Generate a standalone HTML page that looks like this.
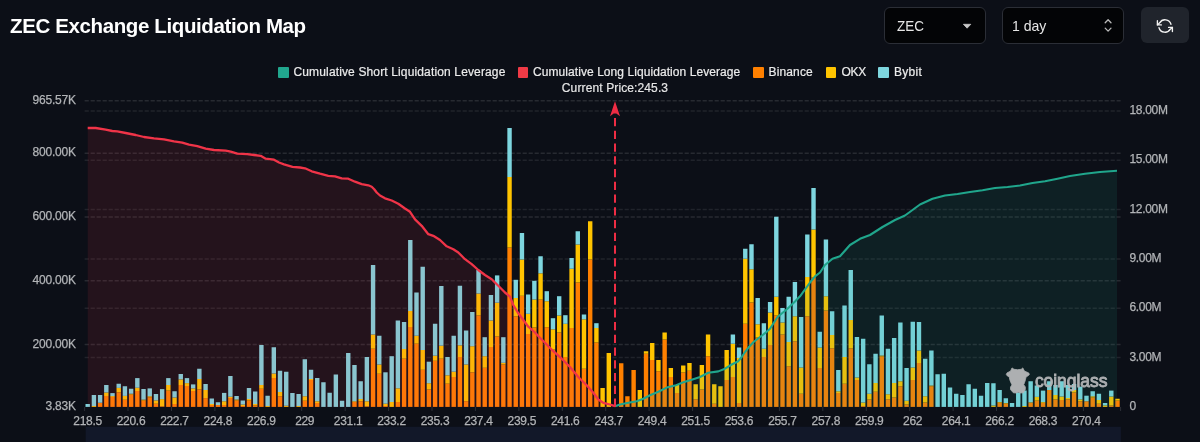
<!DOCTYPE html>
<html><head><meta charset="utf-8"><title>ZEC Exchange Liquidation Map</title>
<style>
html,body{margin:0;padding:0;}
body{width:1200px;height:442px;background:#0c0f17;overflow:hidden;position:relative;font-family:"Liberation Sans",sans-serif;}
.title{position:absolute;left:10px;top:14px;font-size:20.5px;font-weight:bold;color:#fff;letter-spacing:-0.38px;line-height:24px;white-space:nowrap;}
.sel{position:absolute;top:7px;height:37px;box-sizing:border-box;border:1px solid #2b2e36;border-radius:6px;background:#030406;color:#e6e6e6;font-size:14.5px;line-height:35px;}
.sel span{position:absolute;top:0;display:inline-block;transform-origin:left center;white-space:nowrap;}
.btn{position:absolute;left:1140.6px;top:7.3px;width:48.6px;height:35.8px;border-radius:6px;background:#20242c;}
.lg{position:absolute;top:66px;height:12px;font-size:12px;line-height:12px;color:#ececec;white-space:nowrap;-webkit-text-stroke:0.2px #ececec;}
.sq{position:absolute;top:67px;width:10.5px;height:10.5px;border-radius:1px;}
svg{position:absolute;left:0;top:0;}
svg text{font-family:"Liberation Sans",sans-serif;}
#w{position:absolute;left:0;top:0;width:1200px;height:442px;will-change:transform;}
</style></head><body><div id="w">
<div class="title">ZEC Exchange Liquidation Map</div>
<div class="sel" style="left:884px;width:102px;"><span style="left:12px;top:1px;transform:scaleX(0.93);">ZEC</span></div>
<div class="sel" style="left:1002px;width:122px;"><span style="left:8.6px;top:1px;transform:scaleX(0.97);">1 day</span></div>
<div class="btn"></div>

<div class="sq" style="left:278.2px;background:#21a78e;"></div><div class="lg" style="left:293.5px;letter-spacing:0.14px;">Cumulative Short Liquidation Leverage</div>
<div class="sq" style="left:517.5px;background:#f03a46;"></div><div class="lg" style="left:533px;letter-spacing:0.07px;">Cumulative Long Liquidation Leverage</div>
<div class="sq" style="left:753.3px;background:#ff8000;"></div><div class="lg" style="left:768.5px;letter-spacing:0.15px;">Binance</div>
<div class="sq" style="left:825.8px;background:#ffc400;"></div><div class="lg" style="left:841.5px;letter-spacing:-0.3px;">OKX</div>
<div class="sq" style="left:878.3px;background:#7ed6df;"></div><div class="lg" style="left:894px;letter-spacing:0.3px;">Bybit</div>

<svg width="1200" height="442" viewBox="0 0 1200 442">
<!-- header icons -->
<path d="M963.4 24.3 h7.4 l-3.7 3.9 z" fill="#c8c8c8" stroke="#c8c8c8" stroke-width="0.8" stroke-linejoin="round"/>
<path d="M1105.2 22.8 L1108.1 19.8 L1111 22.8 M1105.2 28.1 L1108.1 31.1 L1111 28.1" fill="none" stroke="#b8b8b8" stroke-width="1.3" stroke-linecap="round" stroke-linejoin="round"/>
<g fill="none" stroke="#f2f2f2" stroke-width="1.35" stroke-linecap="round" stroke-linejoin="round">
<path d="M1171 24.3 A6.2 6.2 0 0 0 1159.7 22.8 L1157.4 24.9"/><path d="M1157.4 20.7 V24.9 H1161.4"/>
<path d="M1159 27.7 A6.2 6.2 0 0 0 1170.3 29.2 L1172.4 27.4"/><path d="M1168.6 27.4 H1172.4 V31.6"/>
</g>
<!-- slider band -->
<rect x="85.7" y="426.8" width="1035.2" height="16" fill="#121829"/>
<!-- grid -->
<g stroke-width="1.5" stroke-dasharray="4.2 1.8"><g stroke="rgba(255,255,255,0.115)"><line x1="84.6" x2="1120.6" y1="100.7" y2="100.7"/><line x1="84.6" x2="1120.6" y1="153.2" y2="153.2"/><line x1="84.6" x2="1120.6" y1="217.0" y2="217.0"/><line x1="84.6" x2="1120.6" y1="280.8" y2="280.8"/><line x1="84.6" x2="1120.6" y1="344.6" y2="344.6"/></g><g stroke="rgba(255,255,255,0.085)"><line x1="84.6" x2="1120.6" y1="110.9" y2="110.9"/><line x1="84.6" x2="1120.6" y1="160.2" y2="160.2"/><line x1="84.6" x2="1120.6" y1="209.6" y2="209.6"/><line x1="84.6" x2="1120.6" y1="258.9" y2="258.9"/><line x1="84.6" x2="1120.6" y1="308.2" y2="308.2"/><line x1="84.6" x2="1120.6" y1="357.4" y2="357.4"/></g></g>
<!-- bars -->
<g shape-rendering="auto">
<rect x="85.50" y="404.00" width="4.4" height="2.90" fill="#7ed6df"/>
<rect x="91.71" y="406.00" width="4.4" height="0.90" fill="#ffc400"/>
<rect x="91.71" y="395.00" width="4.4" height="11.00" fill="#7ed6df"/>
<rect x="97.91" y="402.75" width="4.4" height="4.15" fill="#ff8000"/>
<rect x="97.91" y="395.00" width="4.4" height="7.75" fill="#7ed6df"/>
<rect x="104.11" y="396.00" width="4.4" height="10.90" fill="#ff8000"/>
<rect x="104.11" y="392.50" width="4.4" height="3.50" fill="#ffc400"/>
<rect x="104.11" y="385.00" width="4.4" height="7.50" fill="#7ed6df"/>
<rect x="110.32" y="396.90" width="4.4" height="10.00" fill="#ff8000"/>
<rect x="110.32" y="396.00" width="4.4" height="0.90" fill="#ffc400"/>
<rect x="110.32" y="393.10" width="4.4" height="2.90" fill="#7ed6df"/>
<rect x="116.52" y="392.25" width="4.4" height="14.65" fill="#ff8000"/>
<rect x="116.52" y="387.90" width="4.4" height="4.35" fill="#ffc400"/>
<rect x="116.52" y="383.75" width="4.4" height="4.15" fill="#7ed6df"/>
<rect x="122.72" y="399.75" width="4.4" height="7.15" fill="#ff8000"/>
<rect x="122.72" y="395.90" width="4.4" height="3.85" fill="#ffc400"/>
<rect x="122.72" y="386.25" width="4.4" height="9.65" fill="#7ed6df"/>
<rect x="128.93" y="394.60" width="4.4" height="12.30" fill="#ff8000"/>
<rect x="128.93" y="393.75" width="4.4" height="0.85" fill="#ffc400"/>
<rect x="128.93" y="388.75" width="4.4" height="5.00" fill="#7ed6df"/>
<rect x="135.13" y="391.00" width="4.4" height="15.90" fill="#ff8000"/>
<rect x="135.13" y="387.75" width="4.4" height="3.25" fill="#ffc400"/>
<rect x="135.13" y="378.10" width="4.4" height="9.65" fill="#7ed6df"/>
<rect x="141.33" y="400.60" width="4.4" height="6.30" fill="#ff8000"/>
<rect x="141.33" y="399.60" width="4.4" height="1.00" fill="#ffc400"/>
<rect x="141.33" y="389.00" width="4.4" height="10.60" fill="#7ed6df"/>
<rect x="147.54" y="397.25" width="4.4" height="9.65" fill="#ff8000"/>
<rect x="147.54" y="396.25" width="4.4" height="1.00" fill="#ffc400"/>
<rect x="147.54" y="388.40" width="4.4" height="7.85" fill="#7ed6df"/>
<rect x="153.74" y="403.75" width="4.4" height="3.15" fill="#ff8000"/>
<rect x="153.74" y="400.40" width="4.4" height="3.35" fill="#ffc400"/>
<rect x="153.74" y="394.00" width="4.4" height="6.40" fill="#7ed6df"/>
<rect x="159.94" y="406.30" width="4.4" height="0.60" fill="#ff8000"/>
<rect x="159.94" y="399.10" width="4.4" height="7.20" fill="#ffc400"/>
<rect x="159.94" y="389.10" width="4.4" height="10.00" fill="#7ed6df"/>
<rect x="166.15" y="390.60" width="4.4" height="16.30" fill="#ff8000"/>
<rect x="166.15" y="385.00" width="4.4" height="5.60" fill="#ffc400"/>
<rect x="166.15" y="378.10" width="4.4" height="6.90" fill="#7ed6df"/>
<rect x="172.35" y="404.00" width="4.4" height="2.90" fill="#ff8000"/>
<rect x="172.35" y="397.50" width="4.4" height="6.50" fill="#ffc400"/>
<rect x="172.35" y="391.25" width="4.4" height="6.25" fill="#7ed6df"/>
<rect x="178.56" y="385.00" width="4.4" height="21.90" fill="#ff8000"/>
<rect x="178.56" y="379.40" width="4.4" height="5.60" fill="#ffc400"/>
<rect x="178.56" y="374.00" width="4.4" height="5.40" fill="#7ed6df"/>
<rect x="184.76" y="386.00" width="4.4" height="20.90" fill="#ff8000"/>
<rect x="184.76" y="383.10" width="4.4" height="2.90" fill="#ffc400"/>
<rect x="184.76" y="378.10" width="4.4" height="5.00" fill="#7ed6df"/>
<rect x="190.96" y="391.00" width="4.4" height="15.90" fill="#ff8000"/>
<rect x="190.96" y="388.40" width="4.4" height="2.60" fill="#ffc400"/>
<rect x="190.96" y="384.40" width="4.4" height="4.00" fill="#7ed6df"/>
<rect x="197.17" y="389.40" width="4.4" height="17.50" fill="#ff8000"/>
<rect x="197.17" y="379.00" width="4.4" height="10.40" fill="#ffc400"/>
<rect x="197.17" y="368.75" width="4.4" height="10.25" fill="#7ed6df"/>
<rect x="203.37" y="398.10" width="4.4" height="8.80" fill="#ff8000"/>
<rect x="203.37" y="390.00" width="4.4" height="8.10" fill="#ffc400"/>
<rect x="203.37" y="384.00" width="4.4" height="6.00" fill="#7ed6df"/>
<rect x="209.57" y="405.00" width="4.4" height="1.90" fill="#ff8000"/>
<rect x="209.57" y="404.00" width="4.4" height="1.00" fill="#ffc400"/>
<rect x="209.57" y="398.50" width="4.4" height="5.50" fill="#7ed6df"/>
<rect x="215.78" y="405.00" width="4.4" height="1.90" fill="#ff8000"/>
<rect x="215.78" y="402.25" width="4.4" height="2.75" fill="#7ed6df"/>
<rect x="221.98" y="405.00" width="4.4" height="1.90" fill="#ff8000"/>
<rect x="221.98" y="401.25" width="4.4" height="3.75" fill="#ffc400"/>
<rect x="221.98" y="392.90" width="4.4" height="8.35" fill="#7ed6df"/>
<rect x="228.18" y="398.00" width="4.4" height="8.90" fill="#ff8000"/>
<rect x="228.18" y="396.75" width="4.4" height="1.25" fill="#ffc400"/>
<rect x="228.18" y="376.00" width="4.4" height="20.75" fill="#7ed6df"/>
<rect x="234.39" y="400.50" width="4.4" height="6.40" fill="#ff8000"/>
<rect x="234.39" y="399.50" width="4.4" height="1.00" fill="#ffc400"/>
<rect x="234.39" y="396.00" width="4.4" height="3.50" fill="#7ed6df"/>
<rect x="240.59" y="406.00" width="4.4" height="0.90" fill="#ff8000"/>
<rect x="240.59" y="404.50" width="4.4" height="1.50" fill="#ffc400"/>
<rect x="240.59" y="400.50" width="4.4" height="4.00" fill="#7ed6df"/>
<rect x="246.80" y="400.50" width="4.4" height="6.40" fill="#ff8000"/>
<rect x="246.80" y="399.00" width="4.4" height="1.50" fill="#ffc400"/>
<rect x="246.80" y="388.00" width="4.4" height="11.00" fill="#7ed6df"/>
<rect x="253.00" y="405.50" width="4.4" height="1.40" fill="#ff8000"/>
<rect x="253.00" y="404.00" width="4.4" height="1.50" fill="#ffc400"/>
<rect x="253.00" y="391.50" width="4.4" height="12.50" fill="#7ed6df"/>
<rect x="259.20" y="388.75" width="4.4" height="18.15" fill="#ff8000"/>
<rect x="259.20" y="385.00" width="4.4" height="3.75" fill="#ffc400"/>
<rect x="259.20" y="345.00" width="4.4" height="40.00" fill="#7ed6df"/>
<rect x="265.41" y="406.00" width="4.4" height="0.90" fill="#ffc400"/>
<rect x="265.41" y="395.75" width="4.4" height="10.25" fill="#7ed6df"/>
<rect x="271.61" y="378.00" width="4.4" height="28.90" fill="#ff8000"/>
<rect x="271.61" y="373.50" width="4.4" height="4.50" fill="#ffc400"/>
<rect x="271.61" y="347.25" width="4.4" height="26.25" fill="#7ed6df"/>
<rect x="277.81" y="396.25" width="4.4" height="10.65" fill="#ff8000"/>
<rect x="277.81" y="392.00" width="4.4" height="4.25" fill="#ffc400"/>
<rect x="277.81" y="370.75" width="4.4" height="21.25" fill="#7ed6df"/>
<rect x="284.02" y="405.75" width="4.4" height="1.15" fill="#ffc400"/>
<rect x="284.02" y="371.75" width="4.4" height="34.00" fill="#7ed6df"/>
<rect x="290.22" y="393.00" width="4.4" height="13.90" fill="#7ed6df"/>
<rect x="296.42" y="406.00" width="4.4" height="0.90" fill="#ffc400"/>
<rect x="296.42" y="394.00" width="4.4" height="12.00" fill="#7ed6df"/>
<rect x="302.63" y="400.75" width="4.4" height="6.15" fill="#ff8000"/>
<rect x="302.63" y="396.25" width="4.4" height="4.50" fill="#ffc400"/>
<rect x="302.63" y="359.25" width="4.4" height="37.00" fill="#7ed6df"/>
<rect x="308.83" y="380.00" width="4.4" height="26.90" fill="#ff8000"/>
<rect x="308.83" y="379.00" width="4.4" height="1.00" fill="#ffc400"/>
<rect x="308.83" y="369.75" width="4.4" height="9.25" fill="#7ed6df"/>
<rect x="315.03" y="403.00" width="4.4" height="3.90" fill="#ff8000"/>
<rect x="315.03" y="401.25" width="4.4" height="1.75" fill="#ffc400"/>
<rect x="315.03" y="378.00" width="4.4" height="23.25" fill="#7ed6df"/>
<rect x="321.24" y="382.25" width="4.4" height="24.65" fill="#7ed6df"/>
<rect x="327.44" y="392.75" width="4.4" height="14.15" fill="#7ed6df"/>
<rect x="333.65" y="374.50" width="4.4" height="32.40" fill="#7ed6df"/>
<rect x="339.85" y="400.75" width="4.4" height="6.15" fill="#7ed6df"/>
<rect x="346.05" y="353.00" width="4.4" height="53.90" fill="#7ed6df"/>
<rect x="352.26" y="402.00" width="4.4" height="4.90" fill="#ff8000"/>
<rect x="352.26" y="401.25" width="4.4" height="0.75" fill="#ffc400"/>
<rect x="352.26" y="365.00" width="4.4" height="36.25" fill="#7ed6df"/>
<rect x="358.46" y="401.25" width="4.4" height="5.65" fill="#ff8000"/>
<rect x="358.46" y="399.00" width="4.4" height="2.25" fill="#ffc400"/>
<rect x="358.46" y="381.25" width="4.4" height="17.75" fill="#7ed6df"/>
<rect x="364.66" y="406.25" width="4.4" height="0.65" fill="#ff8000"/>
<rect x="364.66" y="401.25" width="4.4" height="5.00" fill="#ffc400"/>
<rect x="364.66" y="357.00" width="4.4" height="44.25" fill="#7ed6df"/>
<rect x="370.87" y="348.75" width="4.4" height="58.15" fill="#ff8000"/>
<rect x="370.87" y="334.50" width="4.4" height="14.25" fill="#ffc400"/>
<rect x="370.87" y="265.00" width="4.4" height="69.50" fill="#7ed6df"/>
<rect x="377.07" y="373.75" width="4.4" height="33.15" fill="#ff8000"/>
<rect x="377.07" y="364.50" width="4.4" height="9.25" fill="#ffc400"/>
<rect x="377.07" y="335.75" width="4.4" height="28.75" fill="#7ed6df"/>
<rect x="383.27" y="406.00" width="4.4" height="0.90" fill="#ff8000"/>
<rect x="383.27" y="403.70" width="4.4" height="2.30" fill="#ffc400"/>
<rect x="383.27" y="372.30" width="4.4" height="31.40" fill="#7ed6df"/>
<rect x="389.48" y="402.00" width="4.4" height="4.90" fill="#ffc400"/>
<rect x="389.48" y="356.20" width="4.4" height="45.80" fill="#7ed6df"/>
<rect x="395.68" y="402.00" width="4.4" height="4.90" fill="#ff8000"/>
<rect x="395.68" y="388.30" width="4.4" height="13.70" fill="#ffc400"/>
<rect x="395.68" y="320.50" width="4.4" height="67.80" fill="#7ed6df"/>
<rect x="401.89" y="358.70" width="4.4" height="48.20" fill="#ff8000"/>
<rect x="401.89" y="349.00" width="4.4" height="9.70" fill="#ffc400"/>
<rect x="401.89" y="322.00" width="4.4" height="27.00" fill="#7ed6df"/>
<rect x="408.09" y="327.00" width="4.4" height="79.90" fill="#ff8000"/>
<rect x="408.09" y="311.00" width="4.4" height="16.00" fill="#ffc400"/>
<rect x="408.09" y="240.00" width="4.4" height="71.00" fill="#7ed6df"/>
<rect x="414.29" y="343.70" width="4.4" height="63.20" fill="#ff8000"/>
<rect x="414.29" y="335.75" width="4.4" height="7.95" fill="#ffc400"/>
<rect x="414.29" y="292.50" width="4.4" height="43.25" fill="#7ed6df"/>
<rect x="420.50" y="369.80" width="4.4" height="37.10" fill="#ff8000"/>
<rect x="420.50" y="350.00" width="4.4" height="19.80" fill="#ffc400"/>
<rect x="420.50" y="266.75" width="4.4" height="83.25" fill="#7ed6df"/>
<rect x="426.70" y="389.50" width="4.4" height="17.40" fill="#ff8000"/>
<rect x="426.70" y="383.20" width="4.4" height="6.30" fill="#ffc400"/>
<rect x="426.70" y="361.70" width="4.4" height="21.50" fill="#7ed6df"/>
<rect x="432.90" y="360.80" width="4.4" height="46.10" fill="#ff8000"/>
<rect x="432.90" y="355.70" width="4.4" height="5.10" fill="#ffc400"/>
<rect x="432.90" y="323.75" width="4.4" height="31.95" fill="#7ed6df"/>
<rect x="439.11" y="358.70" width="4.4" height="48.20" fill="#ff8000"/>
<rect x="439.11" y="345.70" width="4.4" height="13.00" fill="#ffc400"/>
<rect x="439.11" y="286.00" width="4.4" height="59.70" fill="#7ed6df"/>
<rect x="445.31" y="383.70" width="4.4" height="23.20" fill="#ff8000"/>
<rect x="445.31" y="375.30" width="4.4" height="8.40" fill="#ffc400"/>
<rect x="445.31" y="357.00" width="4.4" height="18.30" fill="#7ed6df"/>
<rect x="451.51" y="377.00" width="4.4" height="29.90" fill="#ff8000"/>
<rect x="451.51" y="371.70" width="4.4" height="5.30" fill="#ffc400"/>
<rect x="451.51" y="335.75" width="4.4" height="35.95" fill="#7ed6df"/>
<rect x="457.72" y="357.00" width="4.4" height="49.90" fill="#ff8000"/>
<rect x="457.72" y="345.30" width="4.4" height="11.70" fill="#ffc400"/>
<rect x="457.72" y="285.75" width="4.4" height="59.55" fill="#7ed6df"/>
<rect x="463.92" y="401.20" width="4.4" height="5.70" fill="#ff8000"/>
<rect x="463.92" y="364.50" width="4.4" height="36.70" fill="#ffc400"/>
<rect x="463.92" y="330.50" width="4.4" height="34.00" fill="#7ed6df"/>
<rect x="470.12" y="372.30" width="4.4" height="34.60" fill="#ff8000"/>
<rect x="470.12" y="346.20" width="4.4" height="26.10" fill="#ffc400"/>
<rect x="470.12" y="312.00" width="4.4" height="34.20" fill="#7ed6df"/>
<rect x="476.33" y="315.50" width="4.4" height="91.40" fill="#ff8000"/>
<rect x="476.33" y="293.50" width="4.4" height="22.00" fill="#ffc400"/>
<rect x="476.33" y="270.00" width="4.4" height="23.50" fill="#7ed6df"/>
<rect x="482.53" y="367.80" width="4.4" height="39.10" fill="#ff8000"/>
<rect x="482.53" y="356.20" width="4.4" height="11.60" fill="#ffc400"/>
<rect x="482.53" y="337.20" width="4.4" height="19.00" fill="#7ed6df"/>
<rect x="488.74" y="347.00" width="4.4" height="59.90" fill="#ff8000"/>
<rect x="488.74" y="320.50" width="4.4" height="26.50" fill="#ffc400"/>
<rect x="488.74" y="295.00" width="4.4" height="25.50" fill="#7ed6df"/>
<rect x="494.94" y="336.50" width="4.4" height="70.40" fill="#ff8000"/>
<rect x="494.94" y="302.70" width="4.4" height="33.80" fill="#ffc400"/>
<rect x="494.94" y="275.40" width="4.4" height="27.30" fill="#7ed6df"/>
<rect x="501.14" y="364.50" width="4.4" height="42.40" fill="#ff8000"/>
<rect x="501.14" y="362.80" width="4.4" height="1.70" fill="#ffc400"/>
<rect x="501.14" y="337.20" width="4.4" height="25.60" fill="#7ed6df"/>
<rect x="507.35" y="247.50" width="4.4" height="159.40" fill="#ff8000"/>
<rect x="507.35" y="177.00" width="4.4" height="70.50" fill="#ffc400"/>
<rect x="507.35" y="128.00" width="4.4" height="49.00" fill="#7ed6df"/>
<rect x="513.55" y="316.30" width="4.4" height="90.60" fill="#ff8000"/>
<rect x="513.55" y="298.00" width="4.4" height="18.30" fill="#ffc400"/>
<rect x="513.55" y="279.80" width="4.4" height="18.20" fill="#7ed6df"/>
<rect x="519.75" y="295.80" width="4.4" height="111.10" fill="#ff8000"/>
<rect x="519.75" y="259.50" width="4.4" height="36.30" fill="#ffc400"/>
<rect x="519.75" y="233.00" width="4.4" height="26.50" fill="#7ed6df"/>
<rect x="525.96" y="334.00" width="4.4" height="72.90" fill="#ff8000"/>
<rect x="525.96" y="313.80" width="4.4" height="20.20" fill="#ffc400"/>
<rect x="525.96" y="294.50" width="4.4" height="19.30" fill="#7ed6df"/>
<rect x="532.16" y="327.50" width="4.4" height="79.40" fill="#ff8000"/>
<rect x="532.16" y="299.50" width="4.4" height="28.00" fill="#ffc400"/>
<rect x="532.16" y="280.80" width="4.4" height="18.70" fill="#7ed6df"/>
<rect x="538.36" y="299.60" width="4.4" height="107.30" fill="#ff8000"/>
<rect x="538.36" y="273.30" width="4.4" height="26.30" fill="#ffc400"/>
<rect x="538.36" y="256.25" width="4.4" height="17.05" fill="#7ed6df"/>
<rect x="544.57" y="327.20" width="4.4" height="79.70" fill="#ff8000"/>
<rect x="544.57" y="301.20" width="4.4" height="26.00" fill="#ffc400"/>
<rect x="544.57" y="291.20" width="4.4" height="10.00" fill="#7ed6df"/>
<rect x="550.77" y="349.50" width="4.4" height="57.40" fill="#ff8000"/>
<rect x="550.77" y="329.30" width="4.4" height="20.20" fill="#ffc400"/>
<rect x="550.77" y="318.20" width="4.4" height="11.10" fill="#7ed6df"/>
<rect x="556.98" y="332.50" width="4.4" height="74.40" fill="#ff8000"/>
<rect x="556.98" y="315.50" width="4.4" height="17.00" fill="#ffc400"/>
<rect x="556.98" y="296.20" width="4.4" height="19.30" fill="#7ed6df"/>
<rect x="563.18" y="357.00" width="4.4" height="49.90" fill="#ff8000"/>
<rect x="563.18" y="323.80" width="4.4" height="33.20" fill="#ffc400"/>
<rect x="563.18" y="315.20" width="4.4" height="8.60" fill="#7ed6df"/>
<rect x="569.38" y="328.00" width="4.4" height="78.90" fill="#ff8000"/>
<rect x="569.38" y="268.75" width="4.4" height="59.25" fill="#ffc400"/>
<rect x="569.38" y="258.00" width="4.4" height="10.75" fill="#7ed6df"/>
<rect x="575.59" y="282.50" width="4.4" height="124.40" fill="#ff8000"/>
<rect x="575.59" y="244.50" width="4.4" height="38.00" fill="#ffc400"/>
<rect x="575.59" y="231.25" width="4.4" height="13.25" fill="#7ed6df"/>
<rect x="581.79" y="368.75" width="4.4" height="38.15" fill="#ff8000"/>
<rect x="581.79" y="319.30" width="4.4" height="49.45" fill="#ffc400"/>
<rect x="581.79" y="314.50" width="4.4" height="4.80" fill="#7ed6df"/>
<rect x="587.99" y="259.50" width="4.4" height="147.40" fill="#ff8000"/>
<rect x="587.99" y="221.25" width="4.4" height="38.25" fill="#ffc400"/>
<rect x="594.20" y="342.50" width="4.4" height="64.40" fill="#ff8000"/>
<rect x="594.20" y="328.00" width="4.4" height="14.50" fill="#ffc400"/>
<rect x="594.20" y="323.20" width="4.4" height="4.80" fill="#7ed6df"/>
<rect x="600.40" y="388.00" width="4.4" height="18.90" fill="#ffc400"/>
<rect x="606.60" y="353.00" width="4.4" height="53.90" fill="#ffc400"/>
<rect x="619.01" y="363.25" width="4.4" height="43.65" fill="#ff8000"/>
<rect x="625.22" y="396.25" width="4.4" height="10.65" fill="#ff8000"/>
<rect x="631.42" y="370.00" width="4.4" height="36.90" fill="#ff8000"/>
<rect x="637.62" y="390.00" width="4.4" height="16.90" fill="#ffc400"/>
<rect x="643.83" y="353.75" width="4.4" height="53.15" fill="#ff8000"/>
<rect x="643.83" y="351.25" width="4.4" height="2.50" fill="#ffc400"/>
<rect x="650.03" y="360.00" width="4.4" height="46.90" fill="#ff8000"/>
<rect x="650.03" y="343.00" width="4.4" height="17.00" fill="#ffc400"/>
<rect x="656.23" y="371.25" width="4.4" height="35.65" fill="#ff8000"/>
<rect x="656.23" y="360.00" width="4.4" height="11.25" fill="#ffc400"/>
<rect x="662.44" y="339.50" width="4.4" height="67.40" fill="#ff8000"/>
<rect x="662.44" y="332.50" width="4.4" height="7.00" fill="#ffc400"/>
<rect x="668.64" y="377.00" width="4.4" height="29.90" fill="#ff8000"/>
<rect x="668.64" y="368.00" width="4.4" height="9.00" fill="#ffc400"/>
<rect x="674.84" y="393.00" width="4.4" height="13.90" fill="#ff8000"/>
<rect x="674.84" y="385.00" width="4.4" height="8.00" fill="#ffc400"/>
<rect x="681.05" y="372.50" width="4.4" height="34.40" fill="#ff8000"/>
<rect x="681.05" y="365.50" width="4.4" height="7.00" fill="#ffc400"/>
<rect x="687.25" y="370.75" width="4.4" height="36.15" fill="#ff8000"/>
<rect x="687.25" y="363.00" width="4.4" height="7.75" fill="#ffc400"/>
<rect x="693.45" y="399.25" width="4.4" height="7.65" fill="#ff8000"/>
<rect x="693.45" y="384.25" width="4.4" height="15.00" fill="#ffc400"/>
<rect x="699.66" y="389.50" width="4.4" height="17.40" fill="#ff8000"/>
<rect x="699.66" y="365.00" width="4.4" height="24.50" fill="#ffc400"/>
<rect x="705.86" y="356.25" width="4.4" height="50.65" fill="#ff8000"/>
<rect x="705.86" y="334.50" width="4.4" height="21.75" fill="#ffc400"/>
<rect x="712.07" y="403.75" width="4.4" height="3.15" fill="#ff8000"/>
<rect x="712.07" y="384.25" width="4.4" height="19.50" fill="#ffc400"/>
<rect x="718.27" y="386.25" width="4.4" height="20.65" fill="#ffc400"/>
<rect x="724.47" y="380.00" width="4.4" height="26.90" fill="#ff8000"/>
<rect x="724.47" y="350.00" width="4.4" height="30.00" fill="#ffc400"/>
<rect x="730.68" y="377.00" width="4.4" height="29.90" fill="#ff8000"/>
<rect x="730.68" y="343.75" width="4.4" height="33.25" fill="#ffc400"/>
<rect x="730.68" y="334.50" width="4.4" height="9.25" fill="#7ed6df"/>
<rect x="736.88" y="403.00" width="4.4" height="3.90" fill="#ff8000"/>
<rect x="736.88" y="358.00" width="4.4" height="45.00" fill="#ffc400"/>
<rect x="736.88" y="347.50" width="4.4" height="10.50" fill="#7ed6df"/>
<rect x="743.08" y="323.75" width="4.4" height="83.15" fill="#ff8000"/>
<rect x="743.08" y="258.75" width="4.4" height="65.00" fill="#ffc400"/>
<rect x="743.08" y="248.75" width="4.4" height="10.00" fill="#7ed6df"/>
<rect x="749.29" y="302.50" width="4.4" height="104.40" fill="#ff8000"/>
<rect x="749.29" y="269.25" width="4.4" height="33.25" fill="#ffc400"/>
<rect x="749.29" y="244.25" width="4.4" height="25.00" fill="#7ed6df"/>
<rect x="755.49" y="337.50" width="4.4" height="69.40" fill="#ff8000"/>
<rect x="755.49" y="324.25" width="4.4" height="13.25" fill="#ffc400"/>
<rect x="755.49" y="298.00" width="4.4" height="26.25" fill="#7ed6df"/>
<rect x="761.69" y="357.00" width="4.4" height="49.90" fill="#ff8000"/>
<rect x="761.69" y="348.75" width="4.4" height="8.25" fill="#ffc400"/>
<rect x="761.69" y="323.25" width="4.4" height="25.50" fill="#7ed6df"/>
<rect x="767.90" y="345.00" width="4.4" height="61.90" fill="#ff8000"/>
<rect x="767.90" y="312.50" width="4.4" height="32.50" fill="#ffc400"/>
<rect x="767.90" y="302.00" width="4.4" height="10.50" fill="#7ed6df"/>
<rect x="774.10" y="315.50" width="4.4" height="91.40" fill="#ff8000"/>
<rect x="774.10" y="296.75" width="4.4" height="18.75" fill="#ffc400"/>
<rect x="774.10" y="216.75" width="4.4" height="80.00" fill="#7ed6df"/>
<rect x="780.30" y="334.50" width="4.4" height="72.40" fill="#ff8000"/>
<rect x="780.30" y="322.50" width="4.4" height="12.00" fill="#ffc400"/>
<rect x="780.30" y="308.00" width="4.4" height="14.50" fill="#7ed6df"/>
<rect x="786.51" y="366.25" width="4.4" height="40.65" fill="#ff8000"/>
<rect x="786.51" y="342.00" width="4.4" height="24.25" fill="#ffc400"/>
<rect x="786.51" y="296.75" width="4.4" height="45.25" fill="#7ed6df"/>
<rect x="792.71" y="341.25" width="4.4" height="65.65" fill="#ff8000"/>
<rect x="792.71" y="316.25" width="4.4" height="25.00" fill="#ffc400"/>
<rect x="792.71" y="282.00" width="4.4" height="34.25" fill="#7ed6df"/>
<rect x="798.92" y="393.75" width="4.4" height="13.15" fill="#ff8000"/>
<rect x="798.92" y="367.50" width="4.4" height="26.25" fill="#ffc400"/>
<rect x="798.92" y="317.00" width="4.4" height="50.50" fill="#7ed6df"/>
<rect x="805.12" y="316.25" width="4.4" height="90.65" fill="#ff8000"/>
<rect x="805.12" y="277.00" width="4.4" height="39.25" fill="#ffc400"/>
<rect x="805.12" y="234.50" width="4.4" height="42.50" fill="#7ed6df"/>
<rect x="811.32" y="277.50" width="4.4" height="129.40" fill="#ff8000"/>
<rect x="811.32" y="229.50" width="4.4" height="48.00" fill="#ffc400"/>
<rect x="811.32" y="188.00" width="4.4" height="41.50" fill="#7ed6df"/>
<rect x="817.53" y="368.00" width="4.4" height="38.90" fill="#ff8000"/>
<rect x="817.53" y="347.50" width="4.4" height="20.50" fill="#ffc400"/>
<rect x="817.53" y="331.75" width="4.4" height="15.75" fill="#7ed6df"/>
<rect x="823.73" y="310.50" width="4.4" height="96.40" fill="#ff8000"/>
<rect x="823.73" y="296.25" width="4.4" height="14.25" fill="#ffc400"/>
<rect x="823.73" y="239.50" width="4.4" height="56.75" fill="#7ed6df"/>
<rect x="829.93" y="348.25" width="4.4" height="58.65" fill="#ff8000"/>
<rect x="829.93" y="335.00" width="4.4" height="13.25" fill="#ffc400"/>
<rect x="829.93" y="311.25" width="4.4" height="23.75" fill="#7ed6df"/>
<rect x="836.14" y="393.00" width="4.4" height="13.90" fill="#ff8000"/>
<rect x="836.14" y="391.25" width="4.4" height="1.75" fill="#ffc400"/>
<rect x="836.14" y="370.00" width="4.4" height="21.25" fill="#7ed6df"/>
<rect x="842.34" y="383.75" width="4.4" height="23.15" fill="#ff8000"/>
<rect x="842.34" y="357.00" width="4.4" height="26.75" fill="#ffc400"/>
<rect x="842.34" y="305.50" width="4.4" height="51.50" fill="#7ed6df"/>
<rect x="848.54" y="348.25" width="4.4" height="58.65" fill="#ff8000"/>
<rect x="848.54" y="320.00" width="4.4" height="28.25" fill="#ffc400"/>
<rect x="848.54" y="270.00" width="4.4" height="50.00" fill="#7ed6df"/>
<rect x="854.75" y="380.00" width="4.4" height="26.90" fill="#ff8000"/>
<rect x="854.75" y="377.50" width="4.4" height="2.50" fill="#ffc400"/>
<rect x="854.75" y="337.00" width="4.4" height="40.50" fill="#7ed6df"/>
<rect x="860.95" y="406.00" width="4.4" height="0.90" fill="#ff8000"/>
<rect x="860.95" y="402.50" width="4.4" height="3.50" fill="#ffc400"/>
<rect x="860.95" y="338.75" width="4.4" height="63.75" fill="#7ed6df"/>
<rect x="867.16" y="399.50" width="4.4" height="7.40" fill="#ff8000"/>
<rect x="867.16" y="393.75" width="4.4" height="5.75" fill="#ffc400"/>
<rect x="867.16" y="364.25" width="4.4" height="29.50" fill="#7ed6df"/>
<rect x="873.36" y="391.75" width="4.4" height="15.15" fill="#ff8000"/>
<rect x="873.36" y="383.00" width="4.4" height="8.75" fill="#ffc400"/>
<rect x="873.36" y="353.75" width="4.4" height="29.25" fill="#7ed6df"/>
<rect x="879.56" y="356.50" width="4.4" height="50.40" fill="#ff8000"/>
<rect x="879.56" y="355.50" width="4.4" height="1.00" fill="#ffc400"/>
<rect x="879.56" y="315.50" width="4.4" height="40.00" fill="#7ed6df"/>
<rect x="885.77" y="399.25" width="4.4" height="7.65" fill="#ff8000"/>
<rect x="885.77" y="394.25" width="4.4" height="5.00" fill="#ffc400"/>
<rect x="885.77" y="348.75" width="4.4" height="45.50" fill="#7ed6df"/>
<rect x="891.97" y="397.50" width="4.4" height="9.40" fill="#ff8000"/>
<rect x="891.97" y="383.00" width="4.4" height="14.50" fill="#ffc400"/>
<rect x="891.97" y="338.00" width="4.4" height="45.00" fill="#7ed6df"/>
<rect x="898.17" y="386.25" width="4.4" height="20.65" fill="#ff8000"/>
<rect x="898.17" y="381.25" width="4.4" height="5.00" fill="#ffc400"/>
<rect x="898.17" y="322.50" width="4.4" height="58.75" fill="#7ed6df"/>
<rect x="904.38" y="404.50" width="4.4" height="2.40" fill="#ff8000"/>
<rect x="904.38" y="400.75" width="4.4" height="3.75" fill="#ffc400"/>
<rect x="904.38" y="368.00" width="4.4" height="32.75" fill="#7ed6df"/>
<rect x="910.58" y="380.00" width="4.4" height="26.90" fill="#ff8000"/>
<rect x="910.58" y="367.50" width="4.4" height="12.50" fill="#ffc400"/>
<rect x="910.58" y="321.75" width="4.4" height="45.75" fill="#7ed6df"/>
<rect x="916.78" y="363.00" width="4.4" height="43.90" fill="#ff8000"/>
<rect x="916.78" y="350.50" width="4.4" height="12.50" fill="#ffc400"/>
<rect x="916.78" y="322.00" width="4.4" height="28.50" fill="#7ed6df"/>
<rect x="922.99" y="402.50" width="4.4" height="4.40" fill="#ff8000"/>
<rect x="922.99" y="396.25" width="4.4" height="6.25" fill="#ffc400"/>
<rect x="922.99" y="358.75" width="4.4" height="37.50" fill="#7ed6df"/>
<rect x="929.19" y="386.25" width="4.4" height="20.65" fill="#ff8000"/>
<rect x="929.19" y="385.50" width="4.4" height="0.75" fill="#ffc400"/>
<rect x="929.19" y="350.50" width="4.4" height="35.00" fill="#7ed6df"/>
<rect x="935.39" y="374.25" width="4.4" height="32.65" fill="#7ed6df"/>
<rect x="941.60" y="373.75" width="4.4" height="33.15" fill="#7ed6df"/>
<rect x="947.80" y="387.50" width="4.4" height="19.40" fill="#7ed6df"/>
<rect x="954.01" y="393.75" width="4.4" height="13.15" fill="#7ed6df"/>
<rect x="960.21" y="395.00" width="4.4" height="11.90" fill="#7ed6df"/>
<rect x="966.41" y="384.25" width="4.4" height="22.65" fill="#7ed6df"/>
<rect x="972.62" y="388.75" width="4.4" height="18.15" fill="#7ed6df"/>
<rect x="978.82" y="395.75" width="4.4" height="11.15" fill="#7ed6df"/>
<rect x="985.02" y="383.00" width="4.4" height="23.90" fill="#7ed6df"/>
<rect x="991.23" y="405.50" width="4.4" height="1.40" fill="#ffc400"/>
<rect x="991.23" y="383.25" width="4.4" height="22.25" fill="#7ed6df"/>
<rect x="997.43" y="402.70" width="4.4" height="4.20" fill="#ff8000"/>
<rect x="997.43" y="402.00" width="4.4" height="0.70" fill="#ffc400"/>
<rect x="997.43" y="390.00" width="4.4" height="12.00" fill="#7ed6df"/>
<rect x="1003.63" y="403.50" width="4.4" height="3.40" fill="#ff8000"/>
<rect x="1003.63" y="403.00" width="4.4" height="0.50" fill="#ffc400"/>
<rect x="1003.63" y="398.25" width="4.4" height="4.75" fill="#7ed6df"/>
<rect x="1009.84" y="403.00" width="4.4" height="3.90" fill="#7ed6df"/>
<rect x="1016.04" y="392.50" width="4.4" height="14.40" fill="#7ed6df"/>
<rect x="1022.25" y="406.00" width="4.4" height="0.90" fill="#ffc400"/>
<rect x="1022.25" y="390.50" width="4.4" height="15.50" fill="#7ed6df"/>
<rect x="1028.45" y="402.80" width="4.4" height="4.10" fill="#ff8000"/>
<rect x="1028.45" y="402.30" width="4.4" height="0.50" fill="#ffc400"/>
<rect x="1028.45" y="381.25" width="4.4" height="21.05" fill="#7ed6df"/>
<rect x="1034.65" y="400.60" width="4.4" height="6.30" fill="#ff8000"/>
<rect x="1034.65" y="396.90" width="4.4" height="3.70" fill="#ffc400"/>
<rect x="1034.65" y="385.50" width="4.4" height="11.40" fill="#7ed6df"/>
<rect x="1040.86" y="402.80" width="4.4" height="4.10" fill="#ff8000"/>
<rect x="1040.86" y="402.00" width="4.4" height="0.80" fill="#ffc400"/>
<rect x="1040.86" y="390.60" width="4.4" height="11.40" fill="#7ed6df"/>
<rect x="1047.06" y="390.00" width="4.4" height="16.90" fill="#ff8000"/>
<rect x="1047.06" y="381.25" width="4.4" height="8.75" fill="#7ed6df"/>
<rect x="1053.26" y="399.40" width="4.4" height="7.50" fill="#ff8000"/>
<rect x="1053.26" y="395.00" width="4.4" height="4.40" fill="#ffc400"/>
<rect x="1053.26" y="385.00" width="4.4" height="10.00" fill="#7ed6df"/>
<rect x="1059.47" y="400.00" width="4.4" height="6.90" fill="#ff8000"/>
<rect x="1059.47" y="396.50" width="4.4" height="3.50" fill="#ffc400"/>
<rect x="1059.47" y="381.25" width="4.4" height="15.25" fill="#7ed6df"/>
<rect x="1065.67" y="399.40" width="4.4" height="7.50" fill="#ff8000"/>
<rect x="1065.67" y="398.00" width="4.4" height="1.40" fill="#ffc400"/>
<rect x="1065.67" y="385.00" width="4.4" height="13.00" fill="#7ed6df"/>
<rect x="1071.87" y="392.50" width="4.4" height="14.40" fill="#ff8000"/>
<rect x="1071.87" y="390.00" width="4.4" height="2.50" fill="#ffc400"/>
<rect x="1071.87" y="384.00" width="4.4" height="6.00" fill="#7ed6df"/>
<rect x="1078.08" y="401.25" width="4.4" height="5.65" fill="#ff8000"/>
<rect x="1078.08" y="399.40" width="4.4" height="1.85" fill="#ffc400"/>
<rect x="1078.08" y="386.60" width="4.4" height="12.80" fill="#7ed6df"/>
<rect x="1084.28" y="401.25" width="4.4" height="5.65" fill="#ff8000"/>
<rect x="1084.28" y="395.70" width="4.4" height="5.55" fill="#7ed6df"/>
<rect x="1090.49" y="397.50" width="4.4" height="9.40" fill="#ff8000"/>
<rect x="1090.49" y="396.25" width="4.4" height="1.25" fill="#ffc400"/>
<rect x="1090.49" y="391.25" width="4.4" height="5.00" fill="#7ed6df"/>
<rect x="1096.69" y="403.75" width="4.4" height="3.15" fill="#ff8000"/>
<rect x="1096.69" y="400.00" width="4.4" height="3.75" fill="#ffc400"/>
<rect x="1096.69" y="393.75" width="4.4" height="6.25" fill="#7ed6df"/>
<rect x="1102.89" y="405.40" width="4.4" height="1.50" fill="#ffc400"/>
<rect x="1102.89" y="403.00" width="4.4" height="2.40" fill="#7ed6df"/>
<rect x="1109.10" y="405.60" width="4.4" height="1.30" fill="#ff8000"/>
<rect x="1109.10" y="396.50" width="4.4" height="9.10" fill="#ffc400"/>
<rect x="1109.10" y="390.60" width="4.4" height="5.90" fill="#7ed6df"/>
<rect x="1115.30" y="400.60" width="4.4" height="6.30" fill="#ff8000"/>
<rect x="1115.30" y="398.75" width="4.4" height="1.85" fill="#ffc400"/>
</g>
<!-- areas -->
<path d="M87.7,128.0 L95.7,128.0 L105.7,129.7 L112.3,131.0 L117.3,131.3 L125.7,133.0 L135.7,135.0 L144.0,137.0 L154.0,138.3 L164.0,139.3 L174.0,141.3 L182.3,142.7 L189.0,144.7 L197.3,146.2 L205.7,148.7 L214.0,150.0 L225.7,150.7 L230.7,151.7 L237.3,153.7 L247.3,154.2 L254.0,155.0 L260.7,155.8 L265.7,158.7 L274.0,159.7 L279.0,162.5 L284.0,164.3 L292.5,166.8 L300.0,167.5 L305.0,168.3 L311.7,171.3 L320.0,173.7 L328.3,175.8 L335.0,176.3 L341.7,178.3 L348.3,178.7 L355.0,181.7 L361.7,184.2 L368.3,185.3 L371.7,186.7 L374.2,189.2 L376.7,192.5 L380.0,195.5 L385.0,198.3 L391.7,200.5 L398.3,203.7 L405.0,208.5 L410.0,211.8 L415.0,219.4 L421.7,225.8 L428.3,234.2 L433.3,235.8 L440.0,240.0 L446.7,246.3 L453.3,249.2 L458.3,252.5 L465.0,259.2 L471.7,264.2 L478.3,270.0 L485.0,275.0 L491.7,279.2 L498.3,285.8 L505.0,292.5 L510.0,296.7 L513.3,305.0 L518.3,313.3 L523.3,320.0 L528.3,326.7 L535.0,332.5 L539.2,337.0 L545.0,342.8 L553.3,351.2 L561.7,358.7 L570.0,367.0 L578.3,377.0 L586.7,385.3 L593.3,392.8 L598.3,399.5 L603.3,402.8 L610.0,404.5 L615.0,406.2 L615.0,406.9 L87.7,406.9 Z" fill="rgba(242,58,72,0.105)"/>
<path d="M615.0,406.2 L620.0,404.5 L628.3,402.8 L636.7,401.2 L643.3,398.7 L650.0,395.3 L658.3,391.8 L666.7,387.6 L675.0,385.6 L683.3,382.2 L691.7,379.7 L700.0,377.0 L708.3,372.8 L718.3,371.4 L725.0,368.7 L731.7,364.5 L738.3,361.2 L741.7,357.0 L745.0,352.0 L748.3,347.8 L753.3,342.3 L760.0,337.0 L765.0,333.2 L770.0,328.8 L777.5,317.0 L787.5,308.8 L795.0,301.5 L800.0,296.3 L810.0,282.5 L815.0,276.3 L820.0,272.5 L825.0,265.0 L832.5,258.8 L840.0,256.3 L850.0,245.0 L860.0,238.8 L870.0,235.0 L882.5,227.0 L895.0,220.0 L905.0,215.5 L920.0,204.5 L932.5,198.8 L945.0,195.5 L957.5,194.0 L970.0,192.0 L982.5,190.2 L995.0,188.0 L1007.5,187.0 L1020.0,185.5 L1032.5,183.0 L1045.0,181.2 L1057.5,178.7 L1070.0,176.0 L1085.0,173.8 L1100.0,172.0 L1117.0,170.8 L1117.0,406.9 L615.0,406.9 Z" fill="rgba(32,166,140,0.115)"/>
<path d="M87.7,128.0 L95.7,128.0 L105.7,129.7 L112.3,131.0 L117.3,131.3 L125.7,133.0 L135.7,135.0 L144.0,137.0 L154.0,138.3 L164.0,139.3 L174.0,141.3 L182.3,142.7 L189.0,144.7 L197.3,146.2 L205.7,148.7 L214.0,150.0 L225.7,150.7 L230.7,151.7 L237.3,153.7 L247.3,154.2 L254.0,155.0 L260.7,155.8 L265.7,158.7 L274.0,159.7 L279.0,162.5 L284.0,164.3 L292.5,166.8 L300.0,167.5 L305.0,168.3 L311.7,171.3 L320.0,173.7 L328.3,175.8 L335.0,176.3 L341.7,178.3 L348.3,178.7 L355.0,181.7 L361.7,184.2 L368.3,185.3 L371.7,186.7 L374.2,189.2 L376.7,192.5 L380.0,195.5 L385.0,198.3 L391.7,200.5 L398.3,203.7 L405.0,208.5 L410.0,211.8 L415.0,219.4 L421.7,225.8 L428.3,234.2 L433.3,235.8 L440.0,240.0 L446.7,246.3 L453.3,249.2 L458.3,252.5 L465.0,259.2 L471.7,264.2 L478.3,270.0 L485.0,275.0 L491.7,279.2 L498.3,285.8 L505.0,292.5 L510.0,296.7 L513.3,305.0 L518.3,313.3 L523.3,320.0 L528.3,326.7 L535.0,332.5 L539.2,337.0 L545.0,342.8 L553.3,351.2 L561.7,358.7 L570.0,367.0 L578.3,377.0 L586.7,385.3 L593.3,392.8 L598.3,399.5 L603.3,402.8 L610.0,404.5 L615.0,406.2" fill="none" stroke="#f03448" stroke-width="2.3" stroke-linejoin="round"/>
<path d="M615.0,406.2 L620.0,404.5 L628.3,402.8 L636.7,401.2 L643.3,398.7 L650.0,395.3 L658.3,391.8 L666.7,387.6 L675.0,385.6 L683.3,382.2 L691.7,379.7 L700.0,377.0 L708.3,372.8 L718.3,371.4 L725.0,368.7 L731.7,364.5 L738.3,361.2 L741.7,357.0 L745.0,352.0 L748.3,347.8 L753.3,342.3 L760.0,337.0 L765.0,333.2 L770.0,328.8 L777.5,317.0 L787.5,308.8 L795.0,301.5 L800.0,296.3 L810.0,282.5 L815.0,276.3 L820.0,272.5 L825.0,265.0 L832.5,258.8 L840.0,256.3 L850.0,245.0 L860.0,238.8 L870.0,235.0 L882.5,227.0 L895.0,220.0 L905.0,215.5 L920.0,204.5 L932.5,198.8 L945.0,195.5 L957.5,194.0 L970.0,192.0 L982.5,190.2 L995.0,188.0 L1007.5,187.0 L1020.0,185.5 L1032.5,183.0 L1045.0,181.2 L1057.5,178.7 L1070.0,176.0 L1085.0,173.8 L1100.0,172.0 L1117.0,170.8" fill="none" stroke="#20a68c" stroke-width="2.1" stroke-linejoin="round"/>
<!-- current price -->
<line x1="615" x2="615" y1="406.8" y2="112" stroke="#ee2d44" stroke-width="2" stroke-dasharray="8.4 4.35"/>
<path d="M615 101.2 L620 116.2 L615 112.6 L610 116.2 Z" fill="#ee2d44"/>
<text x="615" y="92.2" text-anchor="middle" font-size="12" fill="#e6e6e6" stroke="#e6e6e6" stroke-width="0.2" letter-spacing="0.12">Current Price:245.3</text>
<!-- axes -->
<g stroke="#2c2f37" stroke-width="1"><line x1="84.6" x2="84.6" y1="407" y2="411"/><line x1="128.0" x2="128.0" y1="407" y2="411"/><line x1="171.5" x2="171.5" y1="407" y2="411"/><line x1="214.9" x2="214.9" y1="407" y2="411"/><line x1="258.3" x2="258.3" y1="407" y2="411"/><line x1="301.7" x2="301.7" y1="407" y2="411"/><line x1="345.2" x2="345.2" y1="407" y2="411"/><line x1="388.6" x2="388.6" y1="407" y2="411"/><line x1="432.0" x2="432.0" y1="407" y2="411"/><line x1="475.4" x2="475.4" y1="407" y2="411"/><line x1="518.9" x2="518.9" y1="407" y2="411"/><line x1="562.3" x2="562.3" y1="407" y2="411"/><line x1="605.7" x2="605.7" y1="407" y2="411"/><line x1="649.1" x2="649.1" y1="407" y2="411"/><line x1="692.6" x2="692.6" y1="407" y2="411"/><line x1="736.0" x2="736.0" y1="407" y2="411"/><line x1="779.4" x2="779.4" y1="407" y2="411"/><line x1="822.8" x2="822.8" y1="407" y2="411"/><line x1="866.3" x2="866.3" y1="407" y2="411"/><line x1="909.7" x2="909.7" y1="407" y2="411"/><line x1="953.1" x2="953.1" y1="407" y2="411"/><line x1="996.5" x2="996.5" y1="407" y2="411"/><line x1="1040.0" x2="1040.0" y1="407" y2="411"/><line x1="1083.4" x2="1083.4" y1="407" y2="411"/><line x1="1120.6" x2="1120.6" y1="407" y2="411"/></g>
<g font-size="12" fill="#b2b4b7" stroke="#b2b4b7" stroke-width="0.25"><g letter-spacing="-0.3"><text x="87.6" y="424.9" text-anchor="middle">218.5</text><text x="131.0" y="424.9" text-anchor="middle">220.6</text><text x="174.4" y="424.9" text-anchor="middle">222.7</text><text x="217.8" y="424.9" text-anchor="middle">224.8</text><text x="261.3" y="424.9" text-anchor="middle">226.9</text><text x="304.7" y="424.9" text-anchor="middle">229</text><text x="348.1" y="424.9" text-anchor="middle">231.1</text><text x="391.5" y="424.9" text-anchor="middle">233.2</text><text x="435.0" y="424.9" text-anchor="middle">235.3</text><text x="478.4" y="424.9" text-anchor="middle">237.4</text><text x="521.8" y="424.9" text-anchor="middle">239.5</text><text x="565.2" y="424.9" text-anchor="middle">241.6</text><text x="608.7" y="424.9" text-anchor="middle">243.7</text><text x="652.1" y="424.9" text-anchor="middle">249.4</text><text x="695.5" y="424.9" text-anchor="middle">251.5</text><text x="738.9" y="424.9" text-anchor="middle">253.6</text><text x="782.4" y="424.9" text-anchor="middle">255.7</text><text x="825.8" y="424.9" text-anchor="middle">257.8</text><text x="869.2" y="424.9" text-anchor="middle">259.9</text><text x="912.6" y="424.9" text-anchor="middle">262</text><text x="956.1" y="424.9" text-anchor="middle">264.1</text><text x="999.5" y="424.9" text-anchor="middle">266.2</text><text x="1042.9" y="424.9" text-anchor="middle">268.3</text><text x="1086.3" y="424.9" text-anchor="middle">270.4</text></g><g letter-spacing="-0.2"><text x="75.8" y="103.9" text-anchor="end">965.57K</text><text x="75.8" y="156.4" text-anchor="end">800.00K</text><text x="75.8" y="220.2" text-anchor="end">600.00K</text><text x="75.8" y="284.0" text-anchor="end">400.00K</text><text x="75.8" y="347.8" text-anchor="end">200.00K</text><text x="75.8" y="410.2" text-anchor="end">3.83K</text></g><g letter-spacing="-0.33"><text x="1129.5" y="114.1">18.00M</text><text x="1129.5" y="163.4">15.00M</text><text x="1129.5" y="212.8">12.00M</text><text x="1129.5" y="262.1">9.00M</text><text x="1129.5" y="311.4">6.00M</text><text x="1129.5" y="360.6">3.00M</text><text x="1129.5" y="410.2">0</text></g></g>
<!-- watermark -->
<g fill="#b4b6b8" stroke="#b4b6b8" opacity="0.96">
<polygon points="1010.6,371.1 1012.0,367.9 1014.0,369.3 1017.6,369.7 1021.2,369.3 1022.8,367.9 1024.4,371.1 1028.7,372.9 1029.4,374.5 1028.0,375.8 1026.0,377.0 1025.5,379.5 1024.6,382.4 1023.7,384.7 1025.3,386.9 1025.3,389.6 1023.3,392.8 1020.1,393.0 1018.2,392.1 1016.3,393.0 1013.4,392.8 1010.5,389.6 1010.5,387.1 1012.0,384.9 1010.8,382.4 1009.7,379.5 1009.3,377.0 1007.2,375.8 1006.3,374.5 1007.0,372.9" stroke-width="0.8" stroke-linejoin="round"/>
<text x="1034.9" y="386.6" font-size="17.5" stroke-width="0.85" letter-spacing="-0.05">coinglass</text>
</g>
</svg>
</div></body></html>
